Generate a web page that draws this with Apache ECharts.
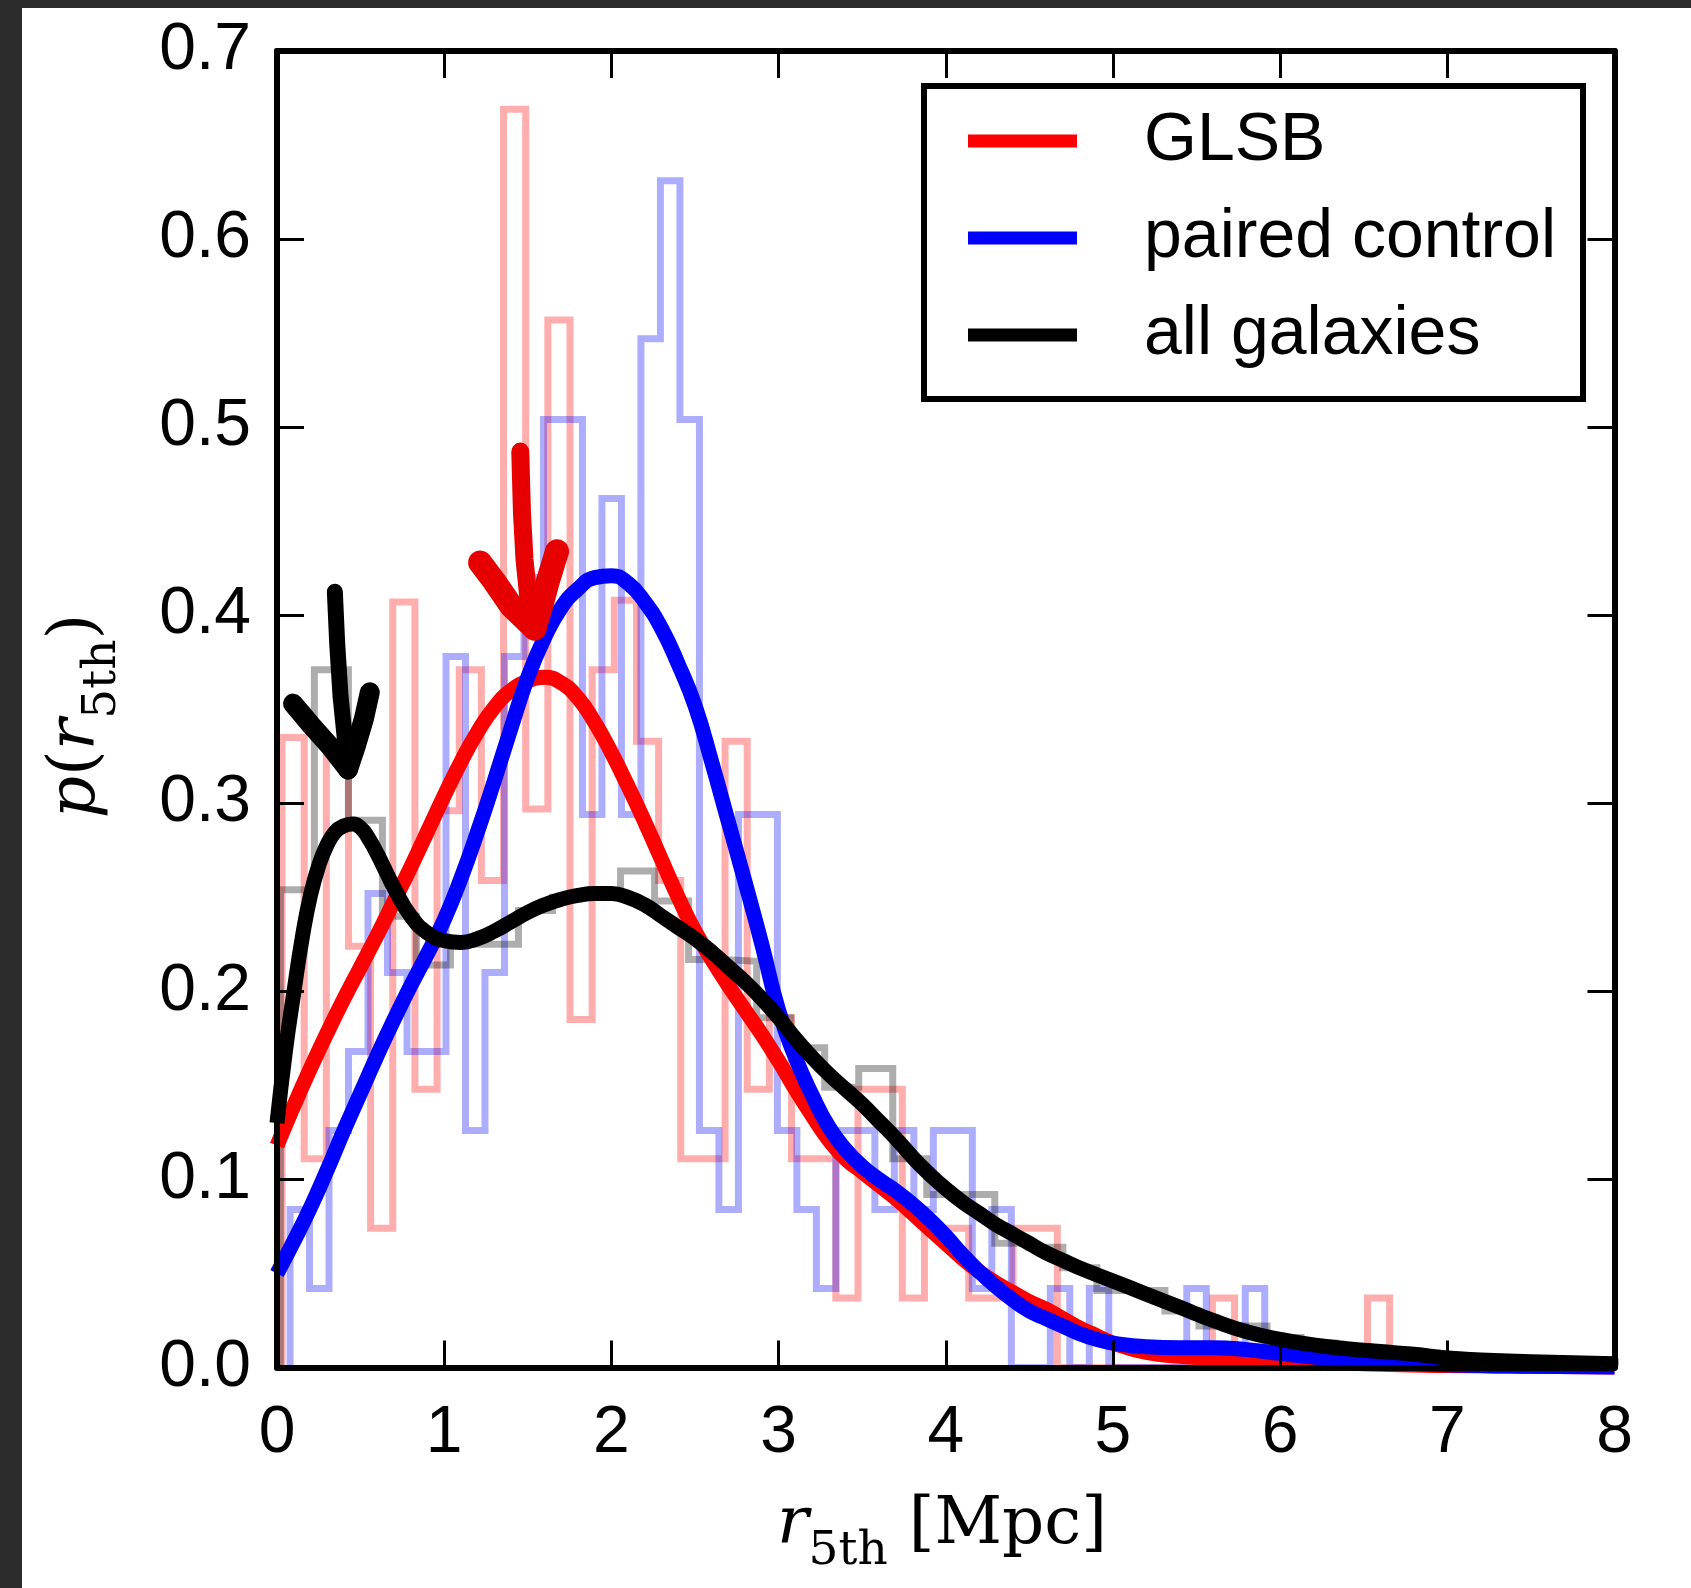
<!DOCTYPE html>
<html><head><meta charset="utf-8">
<script src="https://cdn.jsdelivr.net/npm/echarts/dist/echarts.min.js"></script>
<style>
html,body{margin:0;padding:0;width:1691px;height:1588px;background:#2c2c2c;overflow:hidden}
#paper{position:absolute;left:22px;top:8px;right:0;bottom:0;background:#fff}
#chart{position:absolute;left:0;top:0;width:1691px;height:1588px}
</style></head><body><div id="paper"></div><div id="chart"></div>
<script>
// ---------- data ----------
const xTickValues = [0,1,2,3,4,5,6,7,8];
const yTickValues = [0,0.1,0.2,0.3,0.4,0.5,0.6,0.7];
const legendNames = ['GLSB','paired control','all galaxies'];

// GLSB histogram (density per bin)
const redHistStart = 0.03, redHistWidth = 0.1325;
const redHist = [0.335,0.111,0.333,0.224,0.074,0.407,0.148,0.296,0.371,0.259,
  0.669,0.297,0.557,0.185,0.371,0.408,0.333,0.259,0.111,0.111,
  0.333,0.148,0.186,0.111,0.111,0.037,0.148,0.148,0.037,0.074,
  0.074,0.037,0.037,0.074,0.074,0,0,0,0,0,
  0,0,0.037,0,0,0,0,0,0,0.037];

// paired control histogram
const blueHistStart = 0.078, blueHistWidth = 0.1166;
const blueHist = [0.084,0.042,0.126,0.168,0.252,0.21,0.168,0.168,0.378,0.126,
  0.21,0.378,0.42,0.504,0.504,0.294,0.462,0.294,0.547,0.631,
  0.504,0.126,0.084,0.294,0.294,0.126,0.084,0.042,0.126,0.126,
  0.084,0.126,0.084,0.126,0.126,0.042,0.084,0,0,0.042,
  0,0.042,0,0,0,0,0.042,0,0,0.042];

// all galaxies histogram
const grayHistStart = 0.02, grayHistWidth = 0.2035;
const grayHist = [0.254,0.371,0.291,0.240,0.214,0.225,0.225,0.243,0.250,0.251,
  0.264,0.248,0.217,0.216,0.186,0.170,0.149,0.159,0.111,0.092,
  0.092,0.066,0.064,0.053,0.041,0.041,0.030,0.022,0.022,0.016,
  0.013,0.011,0.009,0.008,0.006,0.005,0.004,0.004,0.003,0.002];

// smooth density curves
const kdeRed = [[0,0.118],[0.1,0.139],[0.2,0.159],[0.3,0.178],[0.4,0.196],[0.5,0.213],[0.6,0.23],
  [0.7,0.248],[0.8,0.266],[0.9,0.285],[1.0,0.304],[1.1,0.322],[1.2,0.338],[1.3,0.351],[1.4,0.36],
  [1.5,0.365],[1.6,0.367],[1.7,0.364],[1.8,0.356],[1.9,0.343],[2.0,0.327],[2.1,0.309],[2.2,0.29],
  [2.3,0.27],[2.4,0.25],[2.5,0.232],[2.6,0.217],[2.7,0.203],[2.8,0.19],[2.9,0.177],[3.0,0.163],
  [3.1,0.148],[3.2,0.134],[3.3,0.121],[3.4,0.111],[3.5,0.104],[3.6,0.097],[3.7,0.09],[3.8,0.082],
  [3.9,0.074],[4.0,0.066],[4.1,0.058],[4.2,0.051],[4.3,0.045],[4.4,0.04],[4.5,0.035],[4.6,0.031],
  [4.7,0.026],[4.8,0.021],[4.9,0.017],[5.0,0.013],[5.2,0.008],[5.4,0.006],[5.6,0.005],[5.8,0.0045],
  [6.0,0.004],[6.5,0.002],[7.0,0.001],[8.0,0.0002]];
const kdeBlue = [[0,0.05],[0.1,0.067],[0.2,0.085],[0.3,0.105],[0.4,0.126],[0.5,0.146],[0.6,0.166],
  [0.7,0.185],[0.8,0.203],[0.9,0.22],[1.0,0.238],[1.1,0.26],[1.2,0.285],[1.3,0.312],[1.4,0.34],
  [1.5,0.367],[1.6,0.388],[1.7,0.404],[1.8,0.414],[1.9,0.42],[2.0,0.421],[2.1,0.417],[2.2,0.407],
  [2.3,0.393],[2.4,0.374],[2.5,0.352],[2.6,0.322],[2.7,0.29],[2.8,0.258],[2.9,0.225],[3.0,0.19],
  [3.1,0.165],[3.2,0.145],[3.3,0.128],[3.4,0.116],[3.5,0.107],[3.6,0.1],[3.7,0.094],[3.8,0.087],
  [3.9,0.079],[4.0,0.07],[4.1,0.06],[4.2,0.051],[4.3,0.043],[4.4,0.036],[4.5,0.03],[4.6,0.026],
  [4.7,0.022],[4.8,0.018],[4.9,0.015],[5.0,0.013],[5.2,0.011],[5.4,0.0105],[5.6,0.0105],[5.8,0.0095],
  [6.0,0.0075],[6.2,0.0055],[6.4,0.004],[6.6,0.003],[7.0,0.0015],[7.5,0.0006],[8.0,0.0002]];
const kdeBlack = [[0,0.13],[0.05,0.168],[0.1,0.199],[0.15,0.228],[0.2,0.251],
  [0.25,0.267],[0.3,0.278],[0.35,0.285],[0.4,0.288],[0.45,0.289],[0.5,0.287],[0.55,0.281],[0.6,0.273],
  [0.65,0.264],[0.7,0.255],[0.8,0.24],[0.9,0.231],[1.0,0.227],[1.1,0.226],[1.2,0.228],[1.3,0.232],
  [1.4,0.237],[1.5,0.242],[1.6,0.246],[1.7,0.249],[1.8,0.251],[1.9,0.252],[2.0,0.252],[2.1,0.25],
  [2.2,0.246],[2.3,0.24],[2.4,0.234],[2.5,0.228],[2.6,0.221],[2.7,0.213],[2.8,0.205],[2.9,0.196],
  [3.0,0.186],[3.1,0.175],[3.2,0.165],[3.3,0.156],[3.4,0.148],[3.5,0.14],[3.6,0.131],[3.7,0.122],
  [3.8,0.112],[3.9,0.103],[4.0,0.095],[4.1,0.088],[4.2,0.082],[4.3,0.076],[4.4,0.071],[4.5,0.066],
  [4.6,0.061],[4.7,0.057],[4.8,0.053],[5.0,0.046],[5.2,0.039],[5.4,0.032],[5.6,0.025],[5.8,0.019],
  [6.0,0.015],[6.2,0.012],[6.4,0.01],[6.6,0.0085],[6.8,0.007],[7.0,0.005],[7.2,0.004],[7.5,0.003],[8.0,0.002]];

// hand-drawn annotation arrows (data coordinates)
const redArrowStrokes = [
  [[1.455,0.487],[1.465,0.455],[1.48,0.43],[1.505,0.408],[1.54,0.393]],
  [[1.215,0.428],[1.30,0.418],[1.40,0.405],[1.54,0.393]],
  [[1.675,0.434],[1.62,0.418],[1.58,0.405],[1.54,0.393]]
];
const blackArrowStrokes = [
  [[0.346,0.4125],[0.36,0.385],[0.38,0.357],[0.405,0.335],[0.425,0.318]],
  [[0.096,0.353],[0.2,0.342],[0.32,0.33],[0.425,0.318]],
  [[0.555,0.359],[0.52,0.345],[0.47,0.33],[0.425,0.318]]
];

// ---------- build ----------
function stepOutline(start, width, vals){
  const pts = [[start,0]];
  vals.forEach((v,i)=>{ const a = start + i*width, b = a + width; pts.push([a,v],[b,v]); });
  pts.push([start + vals.length*width, 0]);
  return pts;
}
const SANS = 'Liberation Sans';
const SERIF = 'DejaVu Serif';
const chart = echarts.init(document.getElementById('chart'), null, {renderer:'canvas'});

function histSeries(name, pts, color){
  return {name, type:'line', data:pts, showSymbol:false, symbol:'none', silent:true, z:2,
    lineStyle:{color, width:7, join:'miter', cap:'butt'}, animation:false};
}
function kdeSeries(name, pts, color){
  return {name, type:'line', data:pts, showSymbol:false, symbol:'none', silent:true, z:3,
    smooth:0.5, color, itemStyle:{color},
    lineStyle:{color, width:15, cap:'butt', join:'round'}, animation:false};
}
function arrowSeries(name, strokes, color, widths){
  return {name, type:'lines', coordinateSystem:'cartesian2d', polyline:true, silent:true, z:6,
    data: strokes.map((c,i)=>({coords:c, lineStyle:{width:widths[i], color, cap:'round', join:'round', opacity:1}})),
    lineStyle:{color, cap:'round', join:'round', opacity:1}, animation:false};
}
const axisCommon = {type:'value', splitLine:{show:false}, z:10,
  axisLine:{show:true, onZero:false, lineStyle:{color:'#000', width:6}},
  axisTick:{show:true, inside:true, length:27, lineStyle:{color:'#000', width:3}}};

const rich = {
  i:{fontFamily:SERIF, fontStyle:'italic', fontSize:66, lineHeight:66, color:'#000'},
  n:{fontFamily:SERIF, fontSize:66, lineHeight:66, color:'#000'},
  s:{fontFamily:SERIF, fontSize:47, lineHeight:47, padding:[52,0,0,0], color:'#000'}
};

chart.setOption({
  animation:false,
  backgroundColor:'transparent',
  grid:{left:277, top:51, right:76.5, bottom:220.5, containLabel:false},
  xAxis:[
    Object.assign({}, axisCommon, {position:'bottom', min:0, max:8, interval:1,
      axisLabel:{show:true, fontFamily:SANS, fontSize:66, color:'#000', margin:33,
        formatter:(v)=> xTickValues.includes(v) ? String(v) : ''}}),
    Object.assign({}, axisCommon, {position:'top', min:0, max:8, interval:1, axisLabel:{show:false}})
  ],
  yAxis:[
    Object.assign({}, axisCommon, {position:'left', min:0, max:0.7, interval:0.1,
      axisLabel:{show:true, fontFamily:SANS, fontSize:66, color:'#000', margin:26,
        formatter:(v)=> v.toFixed(1)}}),
    Object.assign({}, axisCommon, {position:'right', min:0, max:0.7, interval:0.1, axisLabel:{show:false}})
  ],
  legend:{
    show:true, orient:'vertical', left:924, top:86,
    data: legendNames.map(n=>({name:n, icon:'rect'})),
    itemWidth:109, itemHeight:13, itemGap:29,
    padding:[21,27,30,44],
    borderColor:'#000', borderWidth:6, backgroundColor:'#fff', borderRadius:0,
    selectedMode:false, z:20,
    textStyle:{fontFamily:SANS, fontSize:68, color:'#000', lineHeight:68, padding:[0,0,0,62]}
  },
  graphic:[
    {type:'text', x:942, y:1493, z:20,
      style:{text:'{i|r}{s|5th}{n| [Mpc]}', rich, align:'center', verticalAlign:'top',
        textAlign:'center', textVerticalAlign:'top'}},
    {type:'text', x:77, y:716, rotation:Math.PI/2, z:20,
      style:{text:'{i|p}{n|(}{i|r}{s|5th}{n|)}', rich, align:'center', verticalAlign:'middle',
        textAlign:'center', textVerticalAlign:'middle'}}
  ],
  series:[
    histSeries('GLSB hist', stepOutline(redHistStart, redHistWidth, redHist), 'rgba(255,0,0,0.32)'),
    histSeries('paired control hist', stepOutline(blueHistStart, blueHistWidth, blueHist), 'rgba(0,0,255,0.32)'),
    histSeries('all galaxies hist', stepOutline(grayHistStart, grayHistWidth, grayHist), 'rgba(0,0,0,0.32)'),
    kdeSeries('GLSB', kdeRed, '#ff0000'),
    kdeSeries('paired control', kdeBlue, '#0000ff'),
    kdeSeries('all galaxies', kdeBlack, '#000000'),
    arrowSeries('red arrow', redArrowStrokes, '#e60000', [18,24,24]),
    arrowSeries('black arrow', blackArrowStrokes, '#000000', [16,20,20])
  ]
});
</script></body></html>
